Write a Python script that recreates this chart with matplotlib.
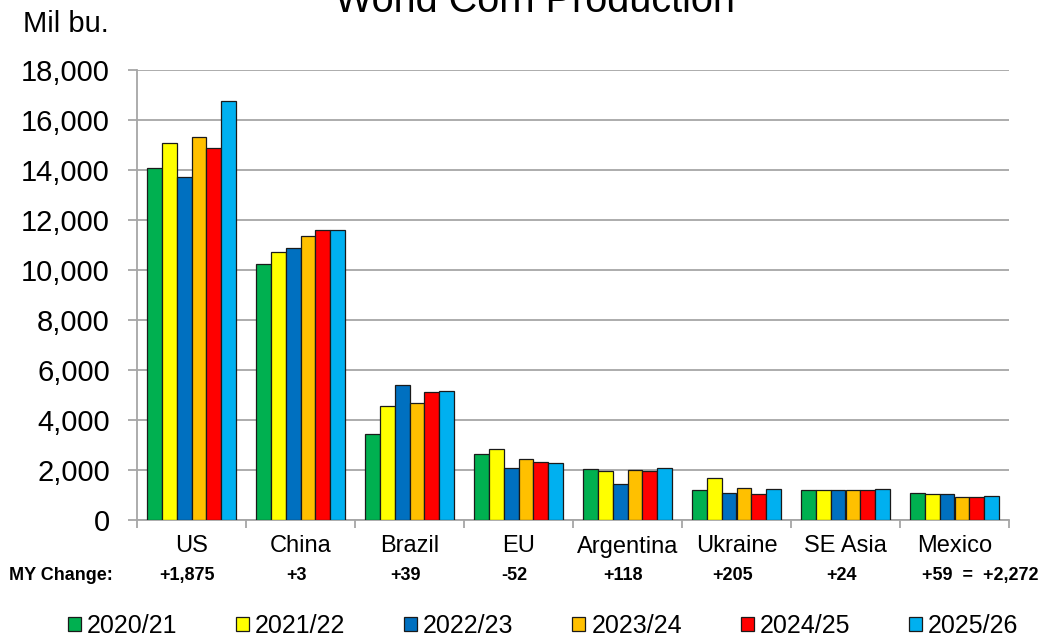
import matplotlib
matplotlib.use("Agg")
import matplotlib.pyplot as plt
from matplotlib.patches import Patch
import numpy as np

plt.rcParams['font.family'] = ['Liberation Sans', 'DejaVu Sans']

regions = ["US", "China", "Brazil", "EU", "Argentina", "Ukraine", "SE Asia", "Mexico"]
years = ["2020/21", "2021/22", "2022/23", "2023/24", "2024/25", "2025/26"]
colors = ["#00B050", "#FFFF00", "#0070C0", "#FFC000", "#FF0000", "#00B0F0"]

# Production by marketing year, million bushels
prod_2020 = [14100, 10250, 3430, 2650, 2060, 1190, 1210, 1080]
prod_2021 = [15070, 10710, 4570, 2830, 1950, 1670, 1210, 1040]
prod_2022 = [13710, 10890, 5400, 2070, 1430, 1070, 1210, 1040]
prod_2023 = [15310, 11370, 4680, 2450, 2010, 1290, 1210, 930]
prod_2024 = [14867, 11587, 5118, 2333, 1968, 1055, 1205, 921]
prod_2025 = [16742, 11590, 5157, 2281, 2086, 1260, 1229, 980]
series = [prod_2020, prod_2021, prod_2022, prod_2023, prod_2024, prod_2025]

my_change = ["+1,875", "+3", "+39", "-52", "+118", "+205", "+24"]
my_change_last = "+59  =  +2,272"
yticks = list(range(0, 18001, 2000))

W, H = 1050, 638
fig = plt.figure(figsize=(W / 100, H / 100), dpi=100)
ax = fig.add_axes([137 / W, 1 - 520 / H, 872 / W, 450 / H])

x = np.arange(len(regions))
w = 0.1346
for j, (vals, c) in enumerate(zip(series, colors)):
    ax.bar(x + (j - 2.5) * w, vals, width=w, color=c, edgecolor="#1a1a1a",
           linewidth=0.9, zorder=3)

ax.set_xlim(-0.5, len(regions) - 0.5)
ax.set_ylim(0, 18000)
ax.set_yticks(yticks)
ax.set_yticklabels([f"{v:,}" for v in yticks], fontsize=21)
ax.yaxis.grid(True, color="#A6A6A6", linewidth=1.3, zorder=0)
ax.tick_params(axis="y", length=6.5, color="#A6A6A6", width=1.3, pad=13)

ax.set_xticks(np.arange(-0.5, len(regions) + 0.5, 1))
ax.set_xticklabels([])
ax.tick_params(axis="x", length=6, color="#A6A6A6", width=1.3, direction="out")

for s in ["top", "right"]:
    ax.spines[s].set_visible(False)
for s in ["left", "bottom"]:
    ax.spines[s].set_color("#A6A6A6")
    ax.spines[s].set_linewidth(1.3)

# Region names and marketing-year change rows below the axis
xt = ax.get_xaxis_transform()
for i, name in enumerate(regions):
    ax.text(i, -26.5 / 450, name, transform=xt,
            ha="center", va="center", fontsize=17)
for i, chg in enumerate(my_change):
    ax.text(i - 0.04, -55.5 / 450, chg, transform=xt,
            ha="center", va="center", fontsize=13, fontweight="bold")
fig.text(922 / W, 1 - 575.5 / H, my_change_last, ha="left", va="center",
         fontsize=13, fontweight="bold")
fig.text(9 / W, 1 - 575.5 / H, "MY Change:", ha="left", va="center",
         fontsize=13, fontweight="bold")

fig.text(23 / W, 1 - 31.5 / H, "Mil bu.", ha="left", va="baseline", fontsize=21)
fig.text(535 / W, 1 - 12.5 / H, "World Corn Production", ha="center",
         va="baseline", fontsize=28.5)

handles = [Patch(facecolor=c, edgecolor="#1a1a1a", linewidth=0.9) for c in colors]
fig.legend(handles, years, loc="center", bbox_to_anchor=(543 / W, 1 - 626 / H),
           ncol=6, frameon=False, fontsize=18, handlelength=0.52,
           handleheight=0.52, handletextpad=0.24, columnspacing=2.35,
           borderpad=0, borderaxespad=0)

fig.savefig("out.png", dpi=100)
